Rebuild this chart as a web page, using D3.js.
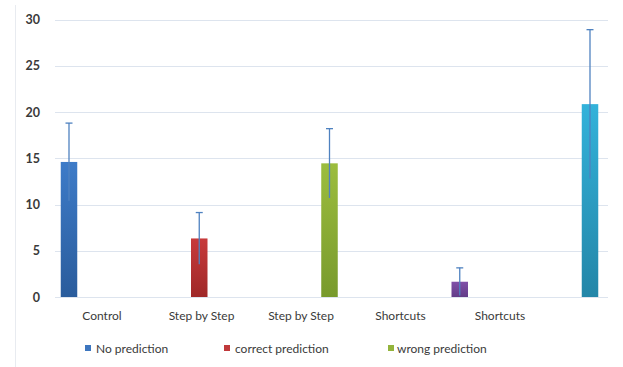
<!DOCTYPE html>
<html><head><meta charset="utf-8">
<script src="https://cdn.jsdelivr.net/npm/d3@7"></script>
<style>body{margin:0;background:#fff;}svg{display:block;font-family:Lato,"Open Sans",sans-serif;}</style>
</head><body>
<svg id="c" width="623" height="367"></svg>
<script>
const categories = ["Control","Step by Step","Step by Step","Shortcuts","Shortcuts"];
const values = [14.6, 6.33, 14.45, 1.65, 20.85];
const errors = [4.2, 2.8, 3.75, 1.5, 8.05];
const barColors = [["#3d7bc8","#2a5c9c"],["#c73a3b","#9f2828"],["#9cbd3e","#789a2c"],["#8150a8","#623c88"],["#33b2da","#2386a8"]];
const yTicks = [0,5,10,15,20,25,30];
const legendLabels = ["No prediction","correct prediction","wrong prediction"];
const legendColors = ["#3d76bf","#c0393b","#93b43c"];

const svg = d3.select("#c");
const y = d3.scaleLinear().domain([0,30]).range([297,19.5]);
const xBar = d3.scaleLinear().domain([0,4]).range([69,590]);
const xLab = d3.scaleLinear().domain([0,4]).range([102,500]);
const barW = 16.5;

// frame (left edge)
svg.append("line").attr("x1",15.5).attr("x2",15.5).attr("y1",5).attr("y2",367)
  .attr("stroke","#e8ebf0").attr("stroke-width",1);

const defs = svg.append("defs");
barColors.forEach((c,i)=>{
  const g = defs.append("linearGradient").attr("id","g"+i).attr("x1",0).attr("y1",0).attr("x2",0).attr("y2",1);
  g.append("stop").attr("offset","0%").attr("stop-color",c[0]);
  g.append("stop").attr("offset","100%").attr("stop-color",c[1]);
});

// grid
svg.append("g").selectAll("line").data(yTicks).join("line")
  .attr("x1",55).attr("x2",608)
  .attr("y1",d=>Math.round(y(d))+0.5).attr("y2",d=>Math.round(y(d))+0.5)
  .attr("stroke","#dde4ee").attr("stroke-width",1);

// y axis labels
const yAxis = d3.axisLeft(y).tickValues(yTicks).tickSize(0).tickPadding(0);
const ya = svg.append("g").attr("transform","translate(40,0)").call(yAxis);
ya.select(".domain").remove();
ya.selectAll("text").attr("font-family","Lato, 'Open Sans', sans-serif").attr("font-size",12.5)
  .attr("font-weight","bold").attr("fill","#3a3a3a");

// bars
const idx = d3.range(values.length);
svg.append("g").selectAll("rect").data(idx).join("rect")
  .attr("x",i=>xBar(i)-barW/2).attr("width",barW)
  .attr("y",i=>y(values[i])).attr("height",i=>y(0)-y(values[i]))
  .attr("fill",i=>"url(#g"+i+")");

// error bars
const eb = svg.append("g").attr("stroke","#4f82c0").attr("stroke-width",1.3);
eb.selectAll("line.v").data(idx).join("line").attr("class","v")
  .attr("x1",i=>xBar(i)).attr("x2",i=>xBar(i))
  .attr("y1",i=>y(values[i]+errors[i])).attr("y2",i=>y(values[i]-errors[i]));
eb.selectAll("line.t").data(idx).join("line").attr("class","t")
  .attr("x1",i=>xBar(i)-3.5).attr("x2",i=>xBar(i)+3.5)
  .attr("y1",i=>y(values[i]+errors[i])).attr("y2",i=>y(values[i]+errors[i]));

// category labels
svg.append("g").selectAll("text").data(idx).join("text")
  .attr("x",i=>xLab(i)).attr("y",320).attr("text-anchor","middle")
  .attr("font-size",12).attr("fill","#3a3a3a").text(i=>categories[i]);

// legend
const legX = [85, 224, 388];
const lg = svg.append("g").selectAll("g").data(legendLabels).join("g")
  .attr("transform",(d,i)=>`translate(${legX[i]},348)`);
lg.append("rect").attr("x",0).attr("y",-3).attr("width",6).attr("height",6).attr("fill",(d,i)=>legendColors[i]);
lg.append("text").attr("x",(d,i)=>i===2?9:11).attr("y",4.5).attr("font-size",12)
  .attr("fill","#3a3a3a").text(d=>d);
</script>
</body></html>
